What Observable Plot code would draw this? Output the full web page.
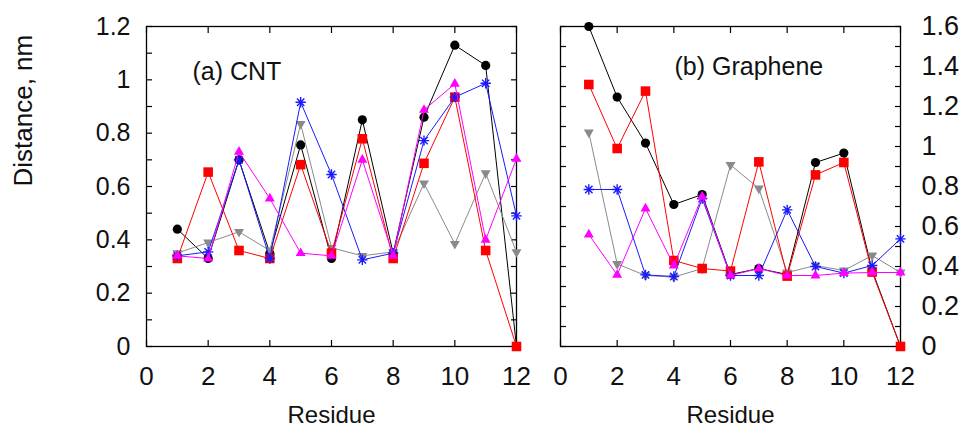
<!DOCTYPE html>
<html>
<head>
<meta charset="utf-8">
<script src="https://cdn.jsdelivr.net/npm/d3@7"></script>
<script src="https://cdn.jsdelivr.net/npm/@observablehq/plot@0.6"></script>
<style>
  body { margin: 0; background: #fff; }
  #chart { position: relative; width: 974px; height: 432px; overflow: hidden; }
  #chart svg { position: absolute; top: 0; }
</style>
</head>
<body>
<div id="chart"></div>
<script>
// Residue index along the peptide
const residues = [1, 2, 3, 4, 5, 6, 7, 8, 9, 10, 11, 12];

// (a) CNT: distance (nm) per residue for each trajectory
const cntBlack   = [0.44, 0.33, 0.70, 0.35, 0.756, 0.33, 0.85, 0.35, 0.86, 1.13, 1.054, 0.0];
const cntRed     = [0.33, 0.654, 0.36, 0.33, 0.682, 0.35, 0.779, 0.33, 0.687, 0.935, 0.36, 0.0];
const cntGray    = [0.35, 0.39, 0.43, 0.36, 0.835, 0.37, 0.34, 0.355, 0.612, 0.385, 0.65, 0.354];
const cntBlue    = [0.34, 0.355, 0.70, 0.33, 0.916, 0.645, 0.325, 0.35, 0.772, 0.935, 0.987, 0.49];
const cntMagenta = [0.34, 0.33, 0.73, 0.555, 0.35, 0.34, 0.70, 0.34, 0.887, 0.985, 0.40, 0.704];

// (b) Graphene: distance (nm) per residue for each trajectory
const grBlack   = [1.60, 1.247, 1.017, 0.71, 0.76, 0.36, 0.39, 0.36, 0.92, 0.967, 0.38, 0.0];
const grRed     = [1.31, 0.99, 1.277, 0.43, 0.39, 0.377, 0.923, 0.352, 0.858, 0.92, 0.372, 0.0];
const grGray    = [1.07, 0.413, 0.355, 0.347, 0.39, 0.908, 0.79, 0.37, 0.405, 0.38, 0.455, 0.37];
const grBlue    = [0.785, 0.785, 0.358, 0.35, 0.74, 0.355, 0.355, 0.683, 0.40, 0.367, 0.405, 0.538];
const grMagenta = [0.56, 0.358, 0.69, 0.405, 0.75, 0.355, 0.39, 0.355, 0.355, 0.367, 0.37, 0.37];

// Axis tick values
const xTickLabels = [0, 2, 4, 6, 8, 10, 12];
const cntYLabels = [0, 0.2, 0.4, 0.6, 0.8, 1.0, 1.2];
const grYLabels = [0, 0.2, 0.4, 0.6, 0.8, 1.0, 1.2, 1.4, 1.6];

const FONT = "'Liberation Sans', Arial, Helvetica, sans-serif";
const sqrt3 = Math.sqrt(3);

// Downward-pointing triangle
const triangleDown = {
  draw(c, size) {
    const y = -Math.sqrt(size / (sqrt3 * 3));
    c.moveTo(0, -y * 2);
    c.lineTo(-sqrt3 * y, y);
    c.lineTo(sqrt3 * y, y);
    c.closePath();
  }
};
// Eight-spoke asterisk (plus overlaid with times)
const star8 = {
  draw(c, size) {
    const r = Math.sqrt(size / Math.PI);
    for (let k = 0; k < 4; k++) {
      const a = k * Math.PI / 4;
      c.moveTo(r * Math.cos(a), r * Math.sin(a));
      c.lineTo(-r * Math.cos(a), -r * Math.sin(a));
    }
  }
};

const styles = {
  black:   {color: "#000000", symbol: "circle",   r: 4.6, filled: true},
  gray:    {color: "#8a8a8a", symbol: triangleDown, r: 3.7, filled: true},
  red:     {color: "#ff0000", symbol: "square",   r: 5.4, filled: true},
  blue:    {color: "#1a1aff", symbol: star8,      r: 5.2, filled: false},
  magenta: {color: "#ff00ff", symbol: "triangle", r: 3.7, filled: true}
};

function rows(values) {
  return residues.map((r, i) => ({residue: r, distance: values[i]}));
}

function seriesMarks(values, key) {
  const s = styles[key];
  const data = rows(values);
  return [
    Plot.line(data, {x: "residue", y: "distance", stroke: s.color, strokeWidth: 1}),
    Plot.dot(data, s.filled
      ? {x: "residue", y: "distance", symbol: s.symbol, r: s.r, fill: s.color, stroke: "none"}
      : {x: "residue", y: "distance", symbol: s.symbol, r: s.r, fill: "none", stroke: s.color, strokeWidth: 1.4})
  ];
}

const fmt = d => String(+d.toFixed(1));

function panel({width, marginLeft, marginRight, yMax, yLabels, ySide, yFontSize, yPadding, series, title, titleDx, titleDy, extra}) {
  const yMinor = d3.range(0, Math.round(yMax * 10) + 1).map(i => i / 10);
  return Plot.plot({
    width, height: 432,
    marginLeft, marginRight, marginTop: 26, marginBottom: 86,
    style: {fontFamily: FONT, background: "transparent", overflow: "visible"},
    x: {domain: [0, 12], label: null},
    y: {domain: [0, yMax], label: null},
    marks: [
      // inward tick marks on all four sides
      Plot.axisX(xTickLabels, {anchor: "bottom", tickSize: 6, dy: -6, tickFormat: () => "", label: null, strokeWidth: 1.2}),
      Plot.axisX(xTickLabels, {anchor: "top", tickSize: 6, dy: 6, tickFormat: () => "", label: null, strokeWidth: 1.2}),
      Plot.axisY(yMinor, {anchor: "left", tickSize: 6, dx: 6, tickFormat: () => "", label: null, strokeWidth: 1.2}),
      Plot.axisY(yMinor, {anchor: "right", tickSize: 6, dx: -6, tickFormat: () => "", label: null, strokeWidth: 1.2}),
      // tick labels
      Plot.axisX(xTickLabels, {anchor: "bottom", tickSize: 0, tickPadding: 20, tickFormat: fmt, fontSize: 26, label: null, fill: "#111"}),
      Plot.axisY(yLabels, {anchor: ySide, tickSize: 0, tickPadding: yPadding, tickFormat: fmt, fontSize: yFontSize, label: null, fill: "#111"}),
      Plot.frame({stroke: "#000", strokeWidth: 1.3}),
      ...series.flatMap(([values, key]) => seriesMarks(values, key)),
      Plot.text([title], {frameAnchor: "top-left", dx: titleDx, dy: titleDy, textAnchor: "start", fontSize: 25, fill: "#111"}),
      Plot.text(["Residue"], {frameAnchor: "bottom", dy: 76, fontSize: 24, fill: "#111"}),
      ...(extra || [])
    ]
  });
}

const chart = document.getElementById("chart");

const left = panel({
  width: 530, marginLeft: 146, marginRight: 14,
  yMax: 1.2, yLabels: cntYLabels, ySide: "left", yFontSize: 25, yPadding: 16,
  series: [[cntBlack, "black"], [cntGray, "gray"], [cntRed, "red"], [cntBlue, "blue"], [cntMagenta, "magenta"]],
  title: "(a) CNT", titleDx: 46, titleDy: 36,
  extra: [Plot.text(["Distance, nm"], {frameAnchor: "left", rotate: -90, dx: -123, fontSize: 26, fill: "#111"})]
});
left.style.left = "0px";
chart.appendChild(left);

const right = panel({
  width: 444, marginLeft: 30, marginRight: 74,
  yMax: 1.6, yLabels: grYLabels, ySide: "right", yFontSize: 27, yPadding: 21,
  series: [[grBlack, "black"], [grGray, "gray"], [grRed, "red"], [grBlue, "blue"], [grMagenta, "magenta"]],
  title: "(b) Graphene", titleDx: 114, titleDy: 31
});
right.style.left = "530px";
chart.appendChild(right);
</script>
</body>
</html>
